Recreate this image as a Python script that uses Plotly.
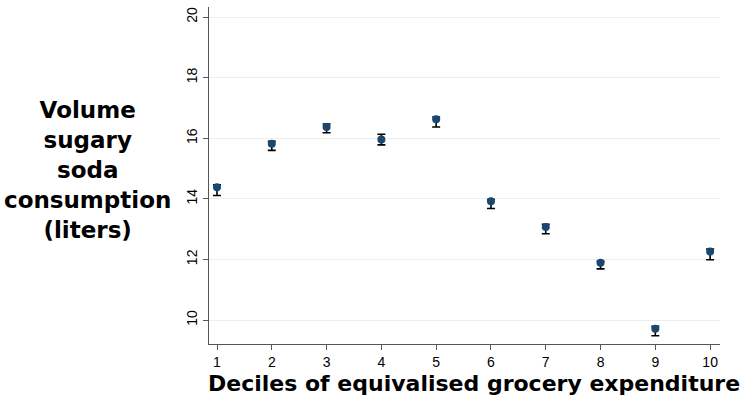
import plotly.graph_objects as go

deciles = [1, 2, 3, 4, 5, 6, 7, 8, 9, 10]
volume = [14.38, 15.82, 16.37, 15.96, 16.63, 13.92, 13.07, 11.89, 9.71, 12.26]
ci_upper = [14.46, 15.90, 16.47, 16.13, 16.70, 13.98, 13.16, 11.94, 9.79, 12.34]
ci_lower = [14.11, 15.60, 16.18, 15.78, 16.37, 13.68, 12.85, 11.69, 9.48, 11.99]

y_ticks = [10, 12, 14, 16, 18, 20]
x_ticks = deciles

err_plus = [u - v for u, v in zip(ci_upper, volume)]
err_minus = [v - l for v, l in zip(volume, ci_lower)]

fig = go.Figure()
fig.add_trace(go.Scatter(
    x=deciles, y=volume, mode="markers",
    marker=dict(size=8, color="#1a476f"),
    error_y=dict(type="data", symmetric=False, array=err_plus, arrayminus=err_minus,
                 color="black", thickness=1.6, width=4),
    showlegend=False,
))

fig.update_layout(
    width=742, height=402,
    margin=dict(l=209, r=22, t=7, b=58),
    paper_bgcolor="white", plot_bgcolor="white",
    font=dict(family="Liberation Sans, Arial, sans-serif", size=14, color="black"),
    xaxis=dict(range=[0.854, 10.18], tickvals=x_ticks, ticks="outside", ticklen=5,
               tickcolor="#555", showline=True, linecolor="#555", linewidth=1.2,
               showgrid=False, zeroline=False, tickfont=dict(size=14)),
    yaxis=dict(range=[9.21, 20.33], tickvals=y_ticks, ticks="outside", ticklen=5,
               tickcolor="#555", showline=True, linecolor="#555", linewidth=1.2,
               showgrid=True, gridcolor="#e8eff1", gridwidth=1, zeroline=False,
               tickangle=-90, tickfont=dict(size=14)),
    annotations=[
        dict(text="Volume<br>sugary<br>soda<br>consumption<br>(liters)",
             xref="paper", yref="paper", x=-0.237, y=0.516, xanchor="center", yanchor="middle",
             showarrow=False, align="center",
             font=dict(family="DejaVu Sans", size=23, color="black", weight="bold")),
        dict(text="Deciles of equivalised grocery expenditure",
             xref="paper", yref="paper", x=0.518, y=-0.116, xanchor="center", yanchor="middle",
             showarrow=False,
             font=dict(family="DejaVu Sans", size=22, color="black", weight="bold")),
    ],
)

fig.write_html("out.html", config={"displayModeBar": False},
               post_script="document.body.style.margin='0';document.body.style.overflow='hidden';")
